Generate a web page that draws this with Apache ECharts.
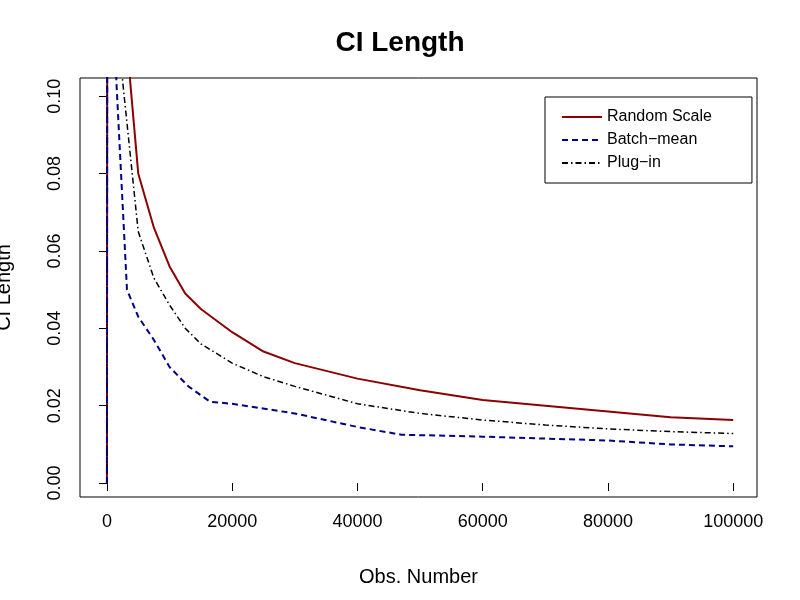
<!DOCTYPE html>
<html>
<head>
<meta charset="utf-8">
<script src="https://cdn.jsdelivr.net/npm/echarts@6/dist/echarts.min.js"></script>
<style>html,body{margin:0;background:#fff}#c{width:800px;height:600px}</style>
</head>
<body>
<div id="c"></div>
<script>
// values
const obs = [0, 200, 3700, 5000, 7500, 10000, 12500, 15000, 20000, 25000, 30000, 40000, 50000, 60000, 70000, 80000, 90000, 100000]
const randomScale = [0, 0.5, 0.104, 0.080, 0.066, 0.056, 0.049, 0.045, 0.039, 0.034, 0.031, 0.027, 0.024, 0.0215, 0.020, 0.0185, 0.017, 0.0163]
const blueX = [0, 200, 1500, 3200, 5000, 7500, 10000, 13000, 16500, 20000, 30000, 40000, 47000, 60000, 70000, 80000, 90000, 100000]
const batchMean = [0, 0.5, 0.104, 0.050, 0.043, 0.037, 0.030, 0.025, 0.021, 0.0205, 0.018, 0.0145, 0.0125, 0.012, 0.0115, 0.011, 0.010, 0.0095]
const blackX = [0, 200, 2500, 5000, 7500, 10000, 12500, 15000, 20000, 25000, 30000, 40000, 50000, 60000, 70000, 80000, 90000, 100000]
const plugIn = [0, 0.5, 0.104, 0.065, 0.053, 0.046, 0.040, 0.036, 0.031, 0.0275, 0.025, 0.0205, 0.018, 0.0163, 0.015, 0.014, 0.0133, 0.0128]
const xTicks = [0, 20000, 40000, 60000, 80000, 100000]
const yTicks = [0, 0.02, 0.04, 0.06, 0.08, 0.1]

const pair = (xs, ys) => xs.map((x, i) => [x, ys[i]])
const font = 'Liberation Sans, Arial, sans-serif'

const myChart = echarts.init(document.getElementById('c'))
const option = {
    animation: false,
    title: {
        text: 'CI Length',
        left: 'center',
        top: 24,
        textStyle: { fontFamily: font, fontSize: 28, fontWeight: 'bold', color: '#000' }
    },
    grid: { left: 80, right: 43, top: 78, bottom: 103, show: true, borderColor: '#000', borderWidth: 1, outerBoundsMode: 'none', containLabel: false },
    legend: {
        orient: 'vertical',
        left: 545, top: 97,
        padding: [12, 40, 12, 16],
        itemGap: 7,
        itemWidth: 40,
        borderColor: '#000', borderWidth: 1,
        itemStyle: { color: 'transparent', borderWidth: 0 },
        textStyle: { fontFamily: font, fontSize: 16, color: '#000' },
        data: ['Random Scale', 'Batch\u2212mean', 'Plug\u2212in']
    },
    xAxis: {
        type: 'value', min: -4300, max: 103800,
        name: 'Obs. Number', nameLocation: 'middle', nameGap: 70,
        nameTextStyle: { fontFamily: font, fontSize: 20, color: '#000' },
        axisLine: { show: false },
        splitLine: { show: false },
        axisTick: { show: true, length: 8, customValues: xTicks, lineStyle: { color: '#000' } },
        axisLabel: { customValues: xTicks, fontFamily: font, fontSize: 18, color: '#000', margin: 16, formatter: v => String(v) }
    },
    yAxis: {
        type: 'value', min: -0.0036, max: 0.1047,
        name: 'CI Length', nameLocation: 'middle', nameGap: 66,
        nameTextStyle: { fontFamily: font, fontSize: 20, color: '#000' },
        axisLine: { show: false },
        splitLine: { show: false },
        axisTick: { show: true, length: 8, customValues: yTicks, lineStyle: { color: '#000' } },
        axisLabel: {
            customValues: yTicks, rotate: 90, fontFamily: font, fontSize: 18, color: '#000', margin: 16,
            formatter: v => v.toFixed(2)
        }
    },
    series: [
        {
            name: 'Random Scale', type: 'line', symbol: 'none', clip: true,
            lineStyle: { color: '#8b0000', width: 2 }, itemStyle: { color: '#8b0000' },
            data: pair(obs, randomScale)
        },
        {
            name: 'Plug\u2212in', type: 'line', symbol: 'none', clip: true,
            lineStyle: { color: '#000', width: 1.5, type: [6, 3, 1.5, 3] }, itemStyle: { color: '#000' },
            data: pair(blackX, plugIn)
        },
        {
            name: 'Batch\u2212mean', type: 'line', symbol: 'none', clip: true,
            lineStyle: { color: '#00008b', width: 2, type: [6, 4] }, itemStyle: { color: '#00008b' },
            data: pair(blueX, batchMean)
        }
    ]
}
myChart.setOption(option)
</script>
</body>
</html>
